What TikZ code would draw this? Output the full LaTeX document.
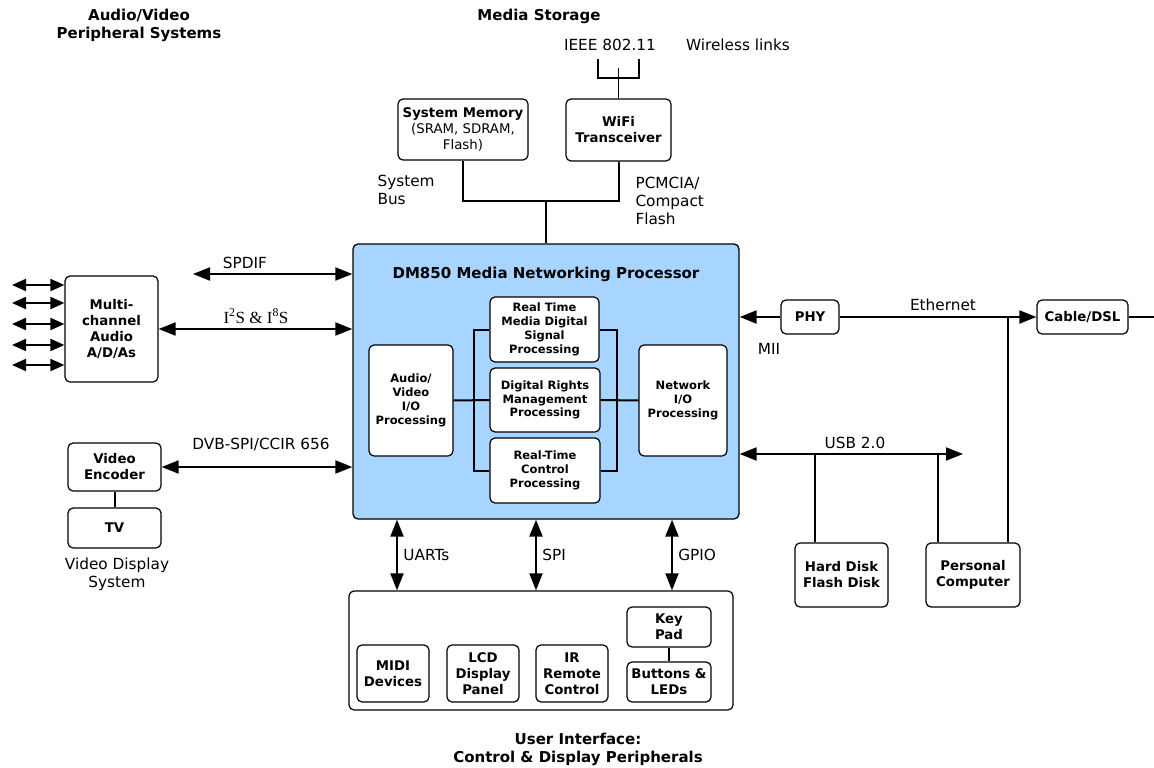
\documentclass[tikz,border=0pt]{standalone}
\usepackage{fontspec}
\setmainfont{DejaVu Sans}
\newfontfamily\serifface{Liberation Serif}
\usetikzlibrary{arrows.meta, positioning, calc}
\definecolor{procblue}{RGB}{168, 213, 255}
\newcommand{\boxfont}{\fontsize{13.3}{16}\selectfont\bfseries}
\newcommand{\innerfont}{\fontsize{11.5}{13.8}\selectfont\bfseries}
\newcommand{\labelfont}{\fontsize{15.3}{18}\selectfont}
\newcommand{\headfont}{\fontsize{15}{18}\selectfont\bfseries}
\tikzset{
    blockbox/.style={draw, rectangle, rounded corners=5pt, line width=1.2pt, fill=white, align=center, font=\boxfont, inner sep=1pt},
    innerbox/.style={blockbox, font=\innerfont},
    procbox/.style={blockbox, fill=procblue},
    link/.style={line width=2pt},
    biarrow/.style={link, {Triangle[length=17pt, width=13pt]}-{Triangle[length=17pt, width=13pt]}},
    smallbiarrow/.style={link, {Triangle[length=14pt, width=12pt]}-{Triangle[length=14pt, width=12pt]}},
    toarrow/.style={link, -{Triangle[length=17pt, width=13pt]}},
    busline/.style={line width=1.6pt},
    sigtext/.style={font=\labelfont},
    heading/.style={font=\headfont, align=center},
}

\begin{document}
\begin{tikzpicture}[x=1pt, y=-1pt]
    \useasboundingbox (0,0) rectangle (1154,768);

    % Headings
    \node[heading] (hdav) at (139,25) {Audio/Video\\Peripheral Systems};
    \node[heading] (hdms) at (539,16) {Media Storage};
    \node[heading] (hdui) at (578,749) {User Interface:\\Control \& Display Peripherals};

    % Processor
    \node[procbox, minimum width=386, minimum height=275, line width=1.3pt] (main) at (546,381.5) {};
    \node[font=\fontsize{15}{18}\selectfont\bfseries] (title) at (546,274) {DM850 Media Networking Processor};
    \node[innerbox, minimum width=84, minimum height=111] (avio) at (411,400.5) {Audio/\\Video\\I/O\\Processing};
    \node[innerbox, minimum width=109, minimum height=65] (dsp) at (544.5,329.5) {Real Time\\Media Digital\\Signal\\Processing};
    \node[innerbox, minimum width=110, minimum height=64] (drm) at (545,400) {Digital Rights\\Management\\Processing};
    \node[innerbox, minimum width=110, minimum height=65] (rtc) at (545,470.5) {Real-Time\\Control\\Processing};
    \node[innerbox, minimum width=88, minimum height=111] (netio) at (683,400.5) {Network\\I/O\\Processing};

    % Memory and WiFi
    \node[blockbox, minimum width=130, minimum height=61] (sysmem) at (463,129.5) {System Memory\\{\mdseries (SRAM, SDRAM,}\\{\mdseries Flash)}};
    \node[blockbox, minimum width=105, minimum height=62] (wifi) at (618.5,130) {WiFi\\Transceiver};

    % Audio / video side
    \node[blockbox, minimum width=93, minimum height=106] (mca) at (111.5,329) {Multi-\\channel\\Audio\\A/D/As};
    \node[blockbox, minimum width=93, minimum height=48] (venc) at (114.5,467) {Video\\Encoder};
    \node[blockbox, minimum width=93, minimum height=40] (tv) at (114.5,528) {TV};

    % Network side
    \node[blockbox, minimum width=58, minimum height=34] (phy) at (810,317) {PHY};
    \node[blockbox, minimum width=91, minimum height=34] (cable) at (1082.5,317) {Cable/DSL};
    \node[blockbox, minimum width=93, minimum height=64] (hdd) at (841.5,575) {Hard Disk\\Flash Disk};
    \node[blockbox, minimum width=94, minimum height=64] (pc) at (973,575) {Personal\\Computer};

    % User interface
    \node[blockbox, minimum width=384, minimum height=119] (ui) at (541,650.5) {};
    \node[blockbox, minimum width=72, minimum height=57] (midi) at (393,673.5) {MIDI\\Devices};
    \node[blockbox, minimum width=72, minimum height=57] (lcd) at (483,673.5) {LCD\\Display\\Panel};
    \node[blockbox, minimum width=72, minimum height=57] (ir) at (572,673.5) {IR\\Remote\\Control};
    \node[blockbox, minimum width=84, minimum height=40] (keypad) at (669,627) {Key\\Pad};
    \node[blockbox, minimum width=84, minimum height=40] (btn) at (669,682) {Buttons \&\\LEDs};

    % Free ends
    \coordinate (busjct) at (546,201);
    \coordinate (ant) at (618.5,68);
    \coordinate (spdif) at (193,274);
    \coordinate (ethout) at (1154,317);
    \coordinate (ethjct) at (1008,317);
    \coordinate (usbend) at (963,454);
    \coordinate (usbhd) at (815,454);
    \coordinate (usbpc) at (938,454);

    % Connections
    \draw[link] (sysmem.south) |- (busjct) -| (wifi.south);
    \draw[link] (busjct) -- (main.north);
    \draw[busline] (wifi.north) -- (ant);
    \draw[busline] (598,59) -- (598,78) -- (639,78) -- (639,59);
    \draw[biarrow] (spdif) -- (spdif -| main.west);
    \draw[biarrow] (mca.east) -- (mca.east -| main.west);
    \draw[biarrow] (venc.east) -- (venc.east -| main.west);
    \draw[link] (venc) -- (tv);
    \foreach \y in {285,303,324,345,365}
        \draw[smallbiarrow] (12,\y) -- (mca.west |- 0,\y);
    \draw[toarrow] (phy.west) -- (main.east |- phy.west);
    \draw[toarrow] (phy.east) -- (cable.west);
    \draw[link] (cable.east) -- (ethout);
    \draw[link] (ethjct) -- (ethjct |- pc.north);
    \draw[biarrow] (usbend -| main.east) -- (usbend);
    \draw[link] (usbhd) -- (usbhd |- hdd.north);
    \draw[link] (usbpc) -- (usbpc |- pc.north);
    \foreach \x/\sig in {397/UARTs, 536/SPI, 672/GPIO}
        \draw[biarrow] (main.south -| \x,0) -- (ui.north -| \x,0)
            node[midway, right=2pt, sigtext] {\sig};
    \draw[link] (keypad) -- (btn);

    % Internal bus
    \draw[link] (avio.east) -- (drm.west);
    \draw[link] (dsp.west) -- ++(-15,0) |- (rtc.west);
    \draw[link] (drm.east) -- (netio.west);
    \draw[link] (dsp.east) -- ++(17,0) |- (rtc.east);

    % Signal labels
    \node[sigtext] (lspdif) at (245,263) {SPDIF};
    \node[sigtext, font=\fontsize{17}{18}\serifface] (li2s) at (256,316) {I\textsuperscript{2}S \& I\textsuperscript{8}S};
    \node[sigtext] (ldvb) at (261,445) {DVB-SPI/CCIR 656};
    \node[sigtext, anchor=north west, align=left] (lbus) at (374,172) {System\\Bus};
    \node[sigtext, anchor=north west, align=left] (lpcm) at (632,174) {PCMCIA/\\Compact\\Flash};
    \node[sigtext] (lieee) at (610,45) {IEEE 802.11};
    \node[sigtext] (lwl) at (738,45) {Wireless links};
    \node[sigtext] (leth) at (943,305) {Ethernet};
    \node[sigtext] (lmii) at (769,349) {MII};
    \node[sigtext] (lusb) at (855,443) {USB 2.0};
    \node[sigtext, align=center] (lvds) at (117,574) {Video Display\\System};
\end{tikzpicture}
\end{document}
